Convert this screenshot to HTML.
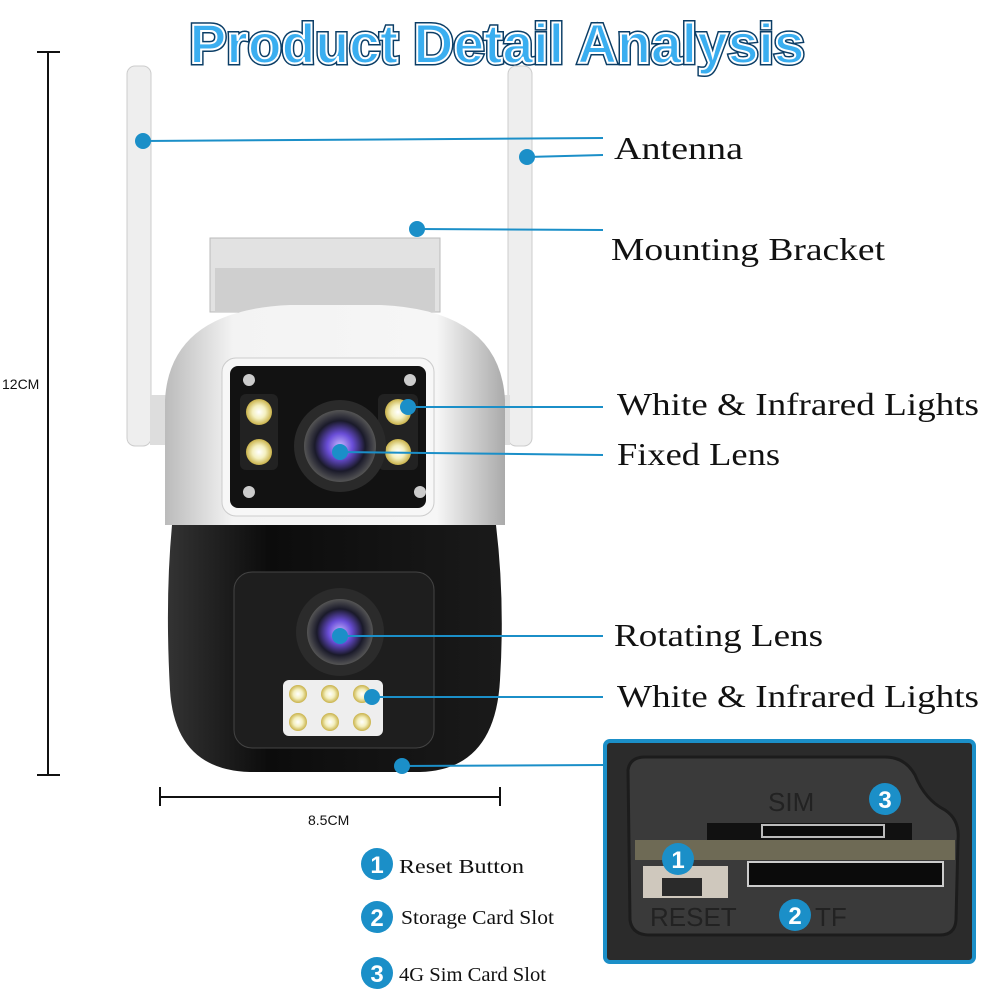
<!DOCTYPE html>
<html><head><meta charset="utf-8"><style>
html,body{margin:0;padding:0;background:#fff;width:1000px;height:1000px;overflow:hidden}
svg{display:block}
.lbl{font-family:"Liberation Serif",serif;font-size:32px;fill:#111}
.leg{font-family:"Liberation Serif",serif;font-size:20px;fill:#111}
.num{font-family:"Liberation Sans",sans-serif;font-weight:bold;fill:#fff;text-anchor:middle}
</style></head><body>
<svg width="1000" height="1000" viewBox="0 0 1000 1000">
<defs>
<radialGradient id="lens" cx="50%" cy="50%" r="50%"><stop offset="0" stop-color="#c8b8ff"/><stop offset="0.35" stop-color="#6a4ed8"/><stop offset="0.7" stop-color="#1a1a2a"/><stop offset="1" stop-color="#555"/></radialGradient>
<radialGradient id="led" cx="50%" cy="50%" r="50%"><stop offset="0" stop-color="#fff"/><stop offset="0.5" stop-color="#f4f0c0"/><stop offset="1" stop-color="#c9b24a"/></radialGradient>
<linearGradient id="wbody" x1="0" x2="1"><stop offset="0" stop-color="#bbb"/><stop offset="0.2" stop-color="#f3f3f3"/><stop offset="0.8" stop-color="#f6f6f6"/><stop offset="1" stop-color="#aaa"/></linearGradient>
<linearGradient id="bbody" x1="0" x2="1"><stop offset="0" stop-color="#333"/><stop offset="0.3" stop-color="#0c0c0c"/><stop offset="1" stop-color="#1a1a1a"/></linearGradient>
</defs>
<text x="497" y="63" text-anchor="middle" font-family="Liberation Sans,sans-serif" font-size="56" font-weight="bold" fill="#3aaef0" stroke="#0a3d66" stroke-width="5" paint-order="stroke" textLength="615" lengthAdjust="spacingAndGlyphs">Product Detail Analysis</text>
<text x="497" y="63" text-anchor="middle" font-family="Liberation Sans,sans-serif" font-size="56" font-weight="bold" fill="#3aaef0" stroke="#fff" stroke-width="2" textLength="615" lengthAdjust="spacingAndGlyphs">Product Detail Analysis</text>
<g stroke="#111" stroke-width="2">
<line x1="48" y1="52" x2="48" y2="775"/><line x1="37" y1="52" x2="60" y2="52"/><line x1="37" y1="775" x2="60" y2="775"/>
<line x1="160" y1="797" x2="500" y2="797"/><line x1="160" y1="787" x2="160" y2="806"/><line x1="500" y1="787" x2="500" y2="806"/>
</g>
<rect x="0" y="370" width="46" height="26" fill="#fff"/>
<text x="2" y="389" font-family="Liberation Sans,sans-serif" font-size="14" fill="#111">12CM</text>
<text x="308" y="825" font-family="Liberation Sans,sans-serif" font-size="14" fill="#111">8.5CM</text>
<rect x="127" y="66" width="24" height="380" rx="8" fill="#eee" stroke="#ccc"/>
<rect x="508" y="66" width="24" height="380" rx="8" fill="#eee" stroke="#ccc"/>
<rect x="150" y="395" width="22" height="50" fill="#ddd"/>
<rect x="490" y="395" width="20" height="50" fill="#ddd"/>
<rect x="210" y="238" width="230" height="74" fill="#e2e2e2" stroke="#bbb"/>
<rect x="215" y="268" width="220" height="44" fill="#cfcfcf"/>
<path d="M165 525 L165 400 Q170 310 290 305 L380 305 Q500 310 505 400 L505 525 Z" fill="url(#wbody)"/>
<path d="M172 525 L496 525 Q505 600 500 680 Q495 770 420 772 L250 772 Q175 770 170 690 Q165 600 172 525 Z" fill="url(#bbody)"/>
<rect x="222" y="358" width="212" height="158" rx="14" fill="#f7f7f7" stroke="#ccc"/>
<rect x="230" y="366" width="196" height="142" rx="8" fill="#121212"/>
<circle cx="249" cy="380" r="6" fill="#ccc"/><circle cx="410" cy="380" r="6" fill="#ccc"/>
<circle cx="249" cy="492" r="6" fill="#ccc"/><circle cx="420" cy="492" r="6" fill="#ccc"/>
<rect x="240" y="394" width="38" height="76" rx="6" fill="#222"/>
<rect x="378" y="394" width="40" height="76" rx="6" fill="#222"/>
<circle cx="259" cy="412" r="13" fill="url(#led)"/><circle cx="259" cy="452" r="13" fill="url(#led)"/>
<circle cx="398" cy="412" r="13" fill="url(#led)"/><circle cx="398" cy="452" r="13" fill="url(#led)"/>
<circle cx="340" cy="446" r="46" fill="#2a2a2a"/>
<circle cx="340" cy="446" r="36" fill="url(#lens)"/>
<rect x="234" y="572" width="200" height="176" rx="18" fill="#1e1e1e" stroke="#444"/>
<circle cx="340" cy="632" r="44" fill="#2b2b2b"/>
<circle cx="340" cy="632" r="33" fill="url(#lens)"/>
<rect x="283" y="680" width="100" height="56" rx="6" fill="#eee"/>
<g fill="url(#led)"><circle cx="298" cy="694" r="9"/><circle cx="330" cy="694" r="9"/><circle cx="362" cy="694" r="9"/><circle cx="298" cy="722" r="9"/><circle cx="330" cy="722" r="9"/><circle cx="362" cy="722" r="9"/></g>
<g stroke="#1b8fc8" stroke-width="2" fill="none">
<line x1="143" y1="141" x2="603" y2="138"/><line x1="527" y1="157" x2="603" y2="155"/>
<line x1="417" y1="229" x2="603" y2="230"/><line x1="408" y1="407" x2="603" y2="407"/>
<line x1="340" y1="452" x2="603" y2="455"/><line x1="340" y1="636" x2="603" y2="636"/>
<line x1="372" y1="697" x2="603" y2="697"/><line x1="402" y1="766" x2="603" y2="765"/>
</g>
<g fill="#1b8fc8"><circle cx="143" cy="141" r="8"/><circle cx="527" cy="157" r="8"/><circle cx="417" cy="229" r="8"/><circle cx="408" cy="407" r="8"/><circle cx="340" cy="452" r="8"/><circle cx="340" cy="636" r="8"/><circle cx="372" cy="697" r="8"/><circle cx="402" cy="766" r="8"/></g>
<text class="lbl" x="614" y="159" textLength="129" lengthAdjust="spacingAndGlyphs">Antenna</text>
<text class="lbl" x="611" y="260" textLength="274" lengthAdjust="spacingAndGlyphs">Mounting Bracket</text>
<text class="lbl" x="617" y="415" textLength="362" lengthAdjust="spacingAndGlyphs">White &amp; Infrared Lights</text>
<text class="lbl" x="617" y="465" textLength="163" lengthAdjust="spacingAndGlyphs">Fixed Lens</text>
<text class="lbl" x="614" y="646" textLength="209" lengthAdjust="spacingAndGlyphs">Rotating Lens</text>
<text class="lbl" x="617" y="707" textLength="362" lengthAdjust="spacingAndGlyphs">White &amp; Infrared Lights</text>
<rect x="605" y="741" width="369" height="221" rx="5" fill="#2b2b2b" stroke="#1b8fc8" stroke-width="4"/>
<path d="M628 770 Q630 757 645 757 L885 757 Q905 757 915 775 Q925 800 945 810 Q960 820 958 840 L956 920 Q955 935 940 935 L650 935 Q632 935 630 920 Z" fill="#3a3a3a" stroke="#1c1c1c" stroke-width="3"/>
<rect x="635" y="840" width="320" height="20" fill="#6e6a55"/>
<rect x="707" y="823" width="205" height="17" fill="#111"/>
<rect x="762" y="825" width="122" height="12" fill="#0b0b0b" stroke="#bbb" stroke-width="2"/>
<rect x="748" y="862" width="195" height="24" fill="#0b0b0b" stroke="#ccc" stroke-width="2"/>
<rect x="643" y="866" width="85" height="32" fill="#cfc8bd"/>
<rect x="662" y="878" width="40" height="18" fill="#2a2a2a"/>
<text x="768" y="811" font-family="Liberation Sans,sans-serif" font-size="26" fill="#222">SIM</text>
<text x="650" y="926" font-family="Liberation Sans,sans-serif" font-size="26" fill="#222">RESET</text>
<text x="815" y="926" font-family="Liberation Sans,sans-serif" font-size="26" fill="#222">TF</text>
<g fill="#1b8fc8"><circle cx="885" cy="799" r="16"/><circle cx="678" cy="859" r="16"/><circle cx="795" cy="915" r="16"/></g>
<text class="num" x="885" y="808" font-size="24">3</text>
<text class="num" x="678" y="868" font-size="24">1</text>
<text class="num" x="795" y="924" font-size="24">2</text>
<g fill="#1b8fc8"><circle cx="377" cy="864" r="16"/><circle cx="377" cy="917" r="16"/><circle cx="377" cy="973" r="16"/></g>
<text class="num" x="377" y="873" font-size="24">1</text>
<text class="num" x="377" y="926" font-size="24">2</text>
<text class="num" x="377" y="982" font-size="24">3</text>
<text class="leg" x="399" y="873" textLength="125" lengthAdjust="spacingAndGlyphs">Reset Button</text>
<text class="leg" x="401" y="924" textLength="153" lengthAdjust="spacingAndGlyphs">Storage Card Slot</text>
<text class="leg" x="399" y="981" textLength="147" lengthAdjust="spacingAndGlyphs">4G Sim Card Slot</text>
</svg>
</body></html>
